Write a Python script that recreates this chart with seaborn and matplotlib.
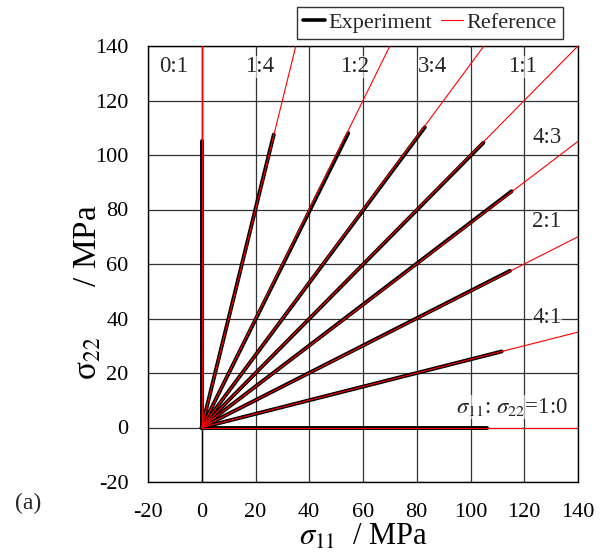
import numpy as np
import pandas as pd
import matplotlib
matplotlib.use("Agg")
import matplotlib.pyplot as plt
import seaborn as sns
from matplotlib.lines import Line2D

# ---- data ----
ratio_labels = ["0:1", "1:4", "1:2", "3:4", "1:1", "4:3", "2:1", "4:1", "1:0"]
ratio_11 = [0, 1, 1, 3, 1, 4, 2, 4, 1]
ratio_22 = [1, 4, 2, 4, 1, 3, 1, 1, 0]
exp_s11_end = [0.0, 26.8, 54.5, 83.0, 104.8, 115.3, 114.7, 111.6, 106.0]
exp_s22_end = [105.0, 107.5, 108.0, 110.2, 104.5, 86.7, 57.5, 27.9, 0.0]
ticks = [-20, 0, 20, 40, 60, 80, 100, 120, 140]

lim_lo, lim_hi = -20, 140

sns.set_theme(style="white")
plt.rcParams["font.family"] = ["Liberation Serif", "DejaVu Serif"]
plt.rcParams["mathtext.fontset"] = "stix"

# experiment table
exp_rows = []
for lab, x1, y1 in zip(ratio_labels, exp_s11_end, exp_s22_end):
    exp_rows.append({"ratio": lab, "s11": 0.0, "s22": 0.0})
    exp_rows.append({"ratio": lab, "s11": x1, "s22": y1})
exp_df = pd.DataFrame(exp_rows)

# reference table: along ratio to the axis limit
ref_rows = []
for lab, a, b in zip(ratio_labels, ratio_11, ratio_22):
    t = min(lim_hi / a if a else np.inf, lim_hi / b if b else np.inf)
    ref_rows.append({"ratio": lab, "s11": 0.0, "s22": 0.0})
    ref_rows.append({"ratio": lab, "s11": a * t, "s22": b * t})
ref_df = pd.DataFrame(ref_rows)

fig = plt.figure(figsize=(6.1, 5.57), dpi=100)
ax = fig.add_axes([148 / 610, 1 - 482 / 557, 430 / 610, 436 / 557])

sns.lineplot(data=exp_df, x="s11", y="s22", units="ratio", estimator=None,
             sort=False, color="black", lw=2.8, ax=ax, legend=False, zorder=3)
sns.lineplot(data=ref_df, x="s11", y="s22", units="ratio", estimator=None,
             sort=False, color="red", lw=0.8, ax=ax, legend=False, zorder=4)

ax.set_xlim(lim_lo, lim_hi)
ax.set_ylim(lim_lo, lim_hi)
ax.set_xticks(ticks)
ax.set_yticks(ticks)
ax.set_xticklabels([str(t) for t in ticks])
ax.set_yticklabels([str(t) for t in ticks])
ax.tick_params(axis="y", labelsize=16, length=0, pad=14, colors="black")
ax.tick_params(axis="x", labelsize=16, length=0, pad=15, colors="black")
ax.grid(True, color="#333333", lw=0.9)
ax.set_axisbelow(True)
for s in ax.spines.values():
    s.set_color("black")
    s.set_linewidth(1.0)
ax.axvline(0, color="black", lw=1.0, zorder=1)

ax.set_xlabel(r"$\sigma_{11}$  / MPa", fontsize=22, color="black")
ax.set_ylabel("σ$_{22}$      / MPa", fontsize=24, color="black")
ax.xaxis.set_label_coords(0.5, -0.093)
ax.yaxis.set_label_coords(-0.103, 0.436)

# ratio annotations
label_x = [-10.5, 21.7, 56.7, 86.0, 119.2, 128.6, 128.4, 128.4, 115.5]
label_y = [132.3, 132.3, 132.3, 132.3, 132.3, 106.6, 75.5, 40.5, 7.5]
texts = list(ratio_labels)
texts[-1] = r"$\sigma_{11}$: $\sigma_{22}$=1:0"
for tx, lx, ly in zip(texts, label_x, label_y):
    ax.text(lx, ly, tx, fontsize=16.5, ha="center", va="center", zorder=5,
            bbox=dict(facecolor="white", edgecolor="none", alpha=0.6, pad=0.5))

handles = [Line2D([], [], color="black", lw=2.6),
           Line2D([], [], color="red", lw=0.8)]
leg = fig.legend(handles, ["Experiment", "Reference"], loc="center",
                 bbox_to_anchor=(0.705, 0.959), ncol=2, fontsize=16,
                 frameon=True, fancybox=False, edgecolor="black",
                 handlelength=1.0, handletextpad=0.15, columnspacing=0.4,
                 borderpad=0.25, borderaxespad=0)
leg.get_frame().set_linewidth(1.0)

fig.text(28 / 610, 1 - 503 / 557, "(a)", fontsize=17, ha="center", va="center")

fig.savefig("out.png", dpi=100)
